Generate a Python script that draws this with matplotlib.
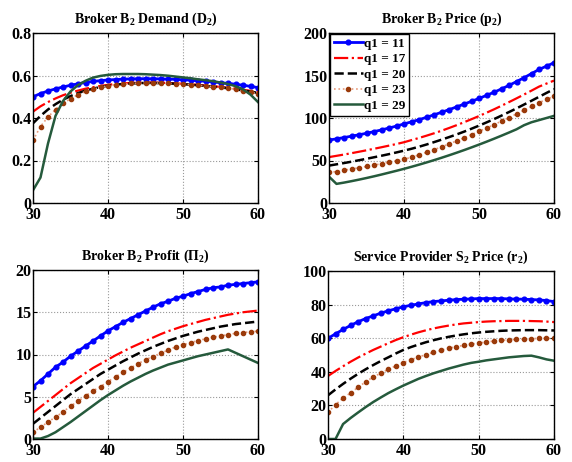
import numpy as np
import matplotlib
matplotlib.use("Agg")
import matplotlib.pyplot as plt

plt.rcParams['font.family'] = ['Liberation Serif', 'DejaVu Serif']
plt.rcParams['font.weight'] = 'bold'
plt.rcParams['mathtext.fontset'] = 'custom'
plt.rcParams['mathtext.rm'] = 'Liberation Serif:bold'
plt.rcParams['mathtext.it'] = 'Liberation Serif:bold'
plt.rcParams['mathtext.bf'] = 'Liberation Serif:bold'

x = list(range(30, 61))
labels = ["q1 = 11", "q1 = 17", "q1 = 20", "q1 = 23", "q1 = 29"]

# Broker B2 demand
d_11 = [0.50, 0.515, 0.527, 0.537, 0.546, 0.554, 0.561, 0.567, 0.572, 0.576, 0.579,
        0.581, 0.583, 0.584, 0.585, 0.585, 0.585, 0.584, 0.583, 0.582, 0.580,
        0.578, 0.575, 0.573, 0.570, 0.566, 0.563, 0.559, 0.554, 0.549, 0.543]
d_17 = [0.43, 0.455, 0.475, 0.492, 0.507, 0.519, 0.529, 0.538, 0.545, 0.551, 0.556,
        0.560, 0.563, 0.565, 0.566, 0.567, 0.567, 0.566, 0.565, 0.563, 0.561,
        0.558, 0.556, 0.553, 0.550, 0.546, 0.542, 0.538, 0.533, 0.528, 0.522]
d_20 = [0.375, 0.41, 0.44, 0.465, 0.486, 0.503, 0.517, 0.529, 0.538, 0.546, 0.552,
        0.557, 0.560, 0.562, 0.564, 0.565, 0.565, 0.564, 0.563, 0.561, 0.559,
        0.557, 0.554, 0.551, 0.548, 0.544, 0.540, 0.535, 0.530, 0.524, 0.518]
d_23 = [0.295, 0.36, 0.405, 0.44, 0.47, 0.49, 0.51, 0.525, 0.535, 0.545, 0.552,
        0.557, 0.560, 0.563, 0.564, 0.565, 0.565, 0.564, 0.563, 0.561, 0.559,
        0.557, 0.554, 0.551, 0.548, 0.544, 0.540, 0.535, 0.529, 0.522, 0.514]
d_29 = [0.06, 0.12, 0.28, 0.41, 0.48, 0.525, 0.555, 0.575, 0.59, 0.598, 0.603,
        0.606, 0.607, 0.607, 0.607, 0.606, 0.604, 0.602, 0.599, 0.595, 0.591,
        0.587, 0.582, 0.578, 0.573, 0.567, 0.560, 0.550, 0.535, 0.510, 0.475]

# Broker B2 price
p_11 = [74, 75.5, 77, 78.6, 80.3, 82, 84, 86, 88.2, 90.5, 93,
        95.5, 98, 100.8, 103.7, 106.7, 109.8, 113, 116.3, 119.6, 123,
        126.6, 130.3, 134.2, 138.4, 142.8, 147.4, 152.2, 157.1, 161, 165]
p_17 = [54, 55.5, 57, 58.6, 60.3, 62, 63.8, 65.6, 67.5, 69.4, 71.5,
        74, 76.5, 79.2, 82, 85, 88.2, 91.5, 95, 98.6, 102.3,
        106.2, 110.2, 114.4, 118.7, 123.1, 127.6, 132.2, 136.9, 140.5, 144]
p_20 = [44, 45.5, 47, 48.6, 50.3, 52, 53.8, 55.6, 57.5, 59.5, 61.6,
        63.8, 66.2, 68.8, 71.6, 74.5, 77.5, 80.6, 83.9, 87.4, 91,
        94.8, 98.7, 102.8, 107, 111.3, 115.8, 120.3, 124.9, 129.5, 134]
p_23 = [36, 37, 38.5, 40, 41.5, 43, 44.6, 46.2, 47.9, 49.6, 51.5,
        53.8, 56.7, 59.7, 62.8, 66, 69.5, 73, 76.7, 80.4, 84.3,
        88.2, 92.2, 96.3, 100.5, 104.8, 109.2, 113.6, 118, 122, 125.5]
p_29 = [31, 22.5, 24, 25.7, 27.5, 29.4, 31.4, 33.5, 35.7, 37.9, 40.2,
        42.6, 45.1, 47.7, 50.4, 53.2, 56.1, 59.1, 62.2, 65.4, 68.7,
        72.1, 75.6, 79.2, 82.9, 86.7, 91.5, 95, 97.5, 100, 102.5]

# Broker B2 profit
pi_11 = [6.2, 6.9, 7.7, 8.5, 9.1, 9.8, 10.4, 11, 11.6, 12.2, 12.8,
         13.3, 13.8, 14.25, 14.7, 15.15, 15.6, 16.0, 16.3, 16.65, 16.9,
         17.2, 17.45, 17.7, 17.9, 18.0, 18.2, 18.3, 18.4, 18.5, 18.6]
pi_17 = [3.1, 3.8, 4.5, 5.2, 5.9, 6.6, 7.2, 7.8, 8.4, 8.9, 9.4,
         9.9, 10.35, 10.8, 11.2, 11.6, 12.0, 12.4, 12.75, 13.05, 13.35,
         13.6, 13.85, 14.1, 14.3, 14.5, 14.7, 14.85, 15.0, 15.1, 15.2]
pi_20 = [1.8, 2.5, 3.2, 3.9, 4.6, 5.3, 5.9, 6.5, 7.1, 7.7, 8.2,
         8.7, 9.2, 9.65, 10.1, 10.5, 10.9, 11.25, 11.6, 11.9, 12.2,
         12.45, 12.7, 12.9, 13.1, 13.3, 13.45, 13.6, 13.7, 13.8, 13.9]
pi_23 = [0.8, 1.4, 2.0, 2.6, 3.2, 3.9, 4.45, 5.1, 5.7, 6.2, 6.8,
         7.35, 7.9, 8.4, 8.9, 9.4, 9.75, 10.15, 10.5, 10.9, 11.15,
         11.4, 11.65, 11.85, 12.05, 12.2, 12.35, 12.5, 12.6, 12.7, 12.75]
pi_29 = [0.05, 0.05, 0.35, 0.8, 1.4, 2.0, 2.65, 3.3, 3.95, 4.6, 5.2,
         5.75, 6.3, 6.8, 7.25, 7.7, 8.1, 8.45, 8.8, 9.05, 9.3,
         9.55, 9.8, 10.0, 10.2, 10.4, 10.6, 10.2, 9.8, 9.4, 9.0]

# Service provider S2 price
r_11 = [59.9, 62.6, 65.2, 67.6, 69.8, 71.7, 73.3, 74.9, 76.3, 77.5, 78.7,
        79.6, 80.4, 81.2, 81.8, 82.2, 82.6, 83.0, 83.2, 83.4, 83.6,
        83.6, 83.6, 83.6, 83.4, 83.3, 83.2, 83.0, 82.8, 82.4, 81.8]
r_17 = [37.5, 40.5, 43.3, 46, 48.5, 50.8, 53, 55, 57, 58.9, 60.6,
        62.1, 63.5, 64.7, 65.8, 66.7, 67.5, 68.2, 68.8, 69.2, 69.6,
        69.9, 70.1, 70.2, 70.3, 70.3, 70.3, 70.2, 70.1, 69.9, 69.6]
r_20 = [26, 29.5, 32.8, 35.9, 38.8, 41.5, 44, 46.4, 48.6, 50.9, 53,
        54.7, 56.2, 57.6, 58.8, 59.9, 60.8, 61.6, 62.3, 62.9, 63.4,
        63.8, 64.1, 64.4, 64.6, 64.7, 64.8, 64.8, 64.8, 64.7, 64.6]
r_23 = [15.8, 20.5, 24.3, 27.5, 30.8, 34, 37, 39.1, 41.5, 43.5, 45.5,
        47.2, 48.8, 50.2, 51.6, 52.8, 54, 55, 55.7, 56.5, 57.1,
        57.7, 58.3, 58.7, 59.1, 59.3, 59.5, 59.7, 59.9, 59.9, 59.9]
r_29 = [0, 0, 8.9, 12.5, 15.8, 19, 22, 24.7, 27.3, 29.6, 31.8,
        33.8, 35.8, 37.5, 39.1, 40.5, 41.9, 43.1, 44.3, 45.3, 46,
        46.8, 47.4, 48, 48.6, 49, 49.4, 49.6, 48.6, 47.4, 46.6]

styles = [
    dict(color='#0000FF', ls='-', lw=2, marker='o', ms=3.4),
    dict(color='#FF0000', ls='-.', lw=1.6),
    dict(color='black', ls='--', lw=1.8),
    dict(color='#E89A7A', ls=':', lw=1.2, marker='o', ms=3.0,
         mfc='#9A3A0A', mec='#9A3A0A'),
    dict(color='#255A3C', ls='-', lw=1.8),
]

panels = [
    ([d_11, d_17, d_20, d_23, d_29], r'Broker B$_2$ Demand (D$_2$)', (0, 0.8), [0, 0.2, 0.4, 0.6, 0.8], ['0', '0.2', '0.4', '0.6', '0.8']),
    ([p_11, p_17, p_20, p_23, p_29], r'Broker B$_2$ Price (p$_2$)', (0, 200), [0, 50, 100, 150, 200], None),
    ([pi_11, pi_17, pi_20, pi_23, pi_29], r'Broker B$_2$ Profit ($\Pi_2$)', (0, 20), [0, 5, 10, 15, 20], None),
    ([r_11, r_17, r_20, r_23, r_29], r'Service Provider S$_2$ Price (r$_2$)', (0, 100), [0, 20, 40, 60, 80, 100], None),
]

boxes = [(33, 33, 258, 203), (329, 33, 554, 203), (33, 270, 258, 439), (328, 271, 554, 439)]
W, H = 572, 462

fig = plt.figure(figsize=(5.72, 4.62), dpi=100)
for (series, title, ylim, yt, ytl), (l, t, r, b) in zip(panels, boxes):
    ax = fig.add_axes([l / W, 1 - b / H, (r - l) / W, (b - t) / H])
    for ys, st, lab in zip(series, styles, labels):
        ax.plot(x, ys, label=lab, **st)
    ax.set_xlim(30, 60)
    ax.set_ylim(*ylim)
    ax.set_xticks([30, 40, 50, 60])
    ax.set_yticks(yt)
    if ytl:
        ax.set_yticklabels(ytl)
    ax.grid(True, ls=':', color='#999999', lw=0.8)
    ax.tick_params(direction='in', top=True, right=True, labelsize=11.5, length=3)
    ax.tick_params(axis='y', pad=1)
    ax.tick_params(axis='x', pad=3)
    for s in ax.spines.values():
        s.set_linewidth(1.0)
    ax.set_title(title, fontsize=10, fontweight='bold', pad=7)
    for lbl in ax.get_xticklabels() + ax.get_yticklabels():
        lbl.set_fontweight('bold')
    if 'Price (p' in title:
        leg = ax.legend(loc='upper left', fontsize=9.5, frameon=True, fancybox=False,
                        edgecolor='black', borderpad=0.3, labelspacing=0.25,
                        handlelength=2.2, handletextpad=0.1, borderaxespad=0.05)
        leg.get_frame().set_linewidth(1.0)
        leg.get_frame().set_alpha(1)

fig.savefig("out.png", dpi=100)
